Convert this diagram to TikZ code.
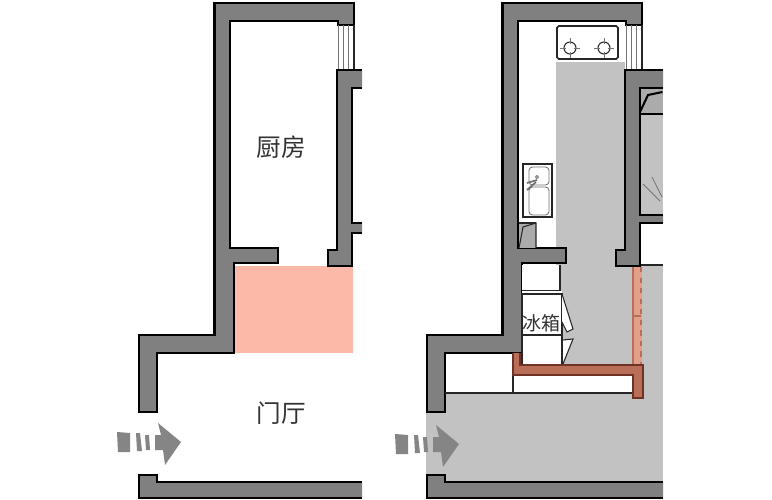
\documentclass[tikz,border=0pt]{standalone}
\usepackage{fontspec}
\newfontfamily\cjk{Noto Sans CJK SC}
\definecolor{wallgray}{HTML}{808080}
\definecolor{floorgray}{HTML}{C3C2C3}
\definecolor{bedgray}{HTML}{ABABAB}
\definecolor{arrowgray}{HTML}{858585}
\definecolor{hallpink}{HTML}{FDB9A7}
\definecolor{newwall}{HTML}{B96E58}
\definecolor{newedge}{HTML}{6E3324}
\definecolor{oldwall}{HTML}{E0A08A}
\tikzset{
	wallfill/.style={fill=wallgray},
	wallline/.style={draw=black, line width=1.15pt, line join=miter},
	thinline/.style={draw=black!85, line width=0.6pt},
	grayline/.style={draw=black!55, line width=0.5pt},
	fixture/.style={draw=black!85, line width=0.9pt, fill=white},
	roomlabel/.style={font=\cjk\fontsize{14}{14}\selectfont, text=black!80, inner sep=0pt},
}

\begin{document}
\begin{tikzpicture}[x=0.02cm, y=-0.02cm]
	\newcommand\shell[4]{
		\begin{scope}[shift={(#1,0)}]
			% outer shell with the entrance gap
			\draw[wallfill, wallline] (214.5,3) -- (354,3) -- (354,25) -- (338,25) -- (338,21) -- (230,21) -- (230,248) -- (278,248) -- (278,263) -- (234,263) -- (234,353) -- (157,353) -- (157,412) -- (139,412) -- (139,335) -- (214.5,335) -- cycle ;
			% window
			\draw[grayline] (338,25) -- (338,70) ;
			\draw[grayline] (343,25) -- (343,70) ;
			\draw[grayline] (348,25) -- (348,70) ;
			\draw[thinline] (354,25) -- (354,70) ;
			% right wall, open towards the next room
			\fill[wallfill] (337,70) -- (#2,70) -- (#2,88) -- (352,88) -- (352,#3) -- (#2,#3) -- (#2,#4) -- (352,#4) -- (352,266) -- (328,266) -- (328,250) -- (337,250) -- cycle ;
			\draw[wallline] (#2,70) -- (337,70) -- (337,250) -- (328,250) -- (328,266) -- (352,266) -- (352,#4) -- (#2,#4) ;
			\draw[wallline] (#2,88) -- (352,88) -- (352,#3) -- (#2,#3) ;
			% bottom wall
			\fill[wallfill] (139,475) -- (157,475) -- (157,482) -- (#2,482) -- (#2,498) -- (139,498) -- cycle ;
			\draw[wallline] (#2,482) -- (157,482) -- (157,475) -- (139,475) -- (139,498) -- (#2,498) ;
		\end{scope}
	}
	\newcommand\entryarrow[2]{
		\begin{scope}[shift={(#1,#2)}]
			\fill[arrowgray] (395,434) -- (408,435) -- (408,454) -- (396,454) -- cycle ;
			\fill[arrowgray] (414,435) -- (418,435) -- (420,453) -- (415,453) -- cycle ;
			\fill[arrowgray] (423,437) -- (427,437) -- (428,452) -- (424,452) -- cycle ;
			\fill[arrowgray] (436,425) -- (459,444) -- (443,467) -- (441,452) -- (433,452) -- (433,437) -- (439,437) -- cycle ;
		\end{scope}
	}
	\newcommand\burner[2]{
		\draw[thinline] (#1,#2) circle (6) ;
		\draw[grayline] (#1-10,#2) -- (#1-4,#2) (#1+4,#2) -- (#1+10,#2) (#1,#2-10) -- (#1,#2-4) (#1,#2+4) -- (#1,#2+10) ;
	}
	\useasboundingbox (0,0) rectangle (772,500) ;

	% left plan
	\fill[hallpink] (234,266) rectangle (352.5,353) ;
	\shell{0}{362}{223}{233}
	\entryarrow{-278}{-2}
	\node[roomlabel] (kitchenlabel) at (281,147) {厨房} ;
	\node[roomlabel] (halllabel) at (281,413) {门厅} ;

	% right plan, floors
	\fill[floorgray] (556,62) rectangle (625,265) ;
	\fill[floorgray] (560,264) rectangle (642,393) ;
	\fill[floorgray] (642,265) rectangle (662.5,393) ;
	\fill[floorgray] (426,393) rectangle (662.5,482) ;
	\fill[floorgray] (640,88) rectangle (662.5,215) ;
	\fill[bedgray] (640,88) rectangle (662.5,114) ;
	\draw[wallline] (640,114) -- (662.5,114) ;
	\draw[wallline] (640,112) -- (648,95) -- (662.5,92) ;
	\draw[thinline] (640,265) -- (662.5,265) ;
	\draw[grayline] (643,184) -- (660,201) ;
	\draw[grayline] (652,177) -- (662,197) ;
	\shell{288}{375}{215}{223}

	% stove
	\draw[fixture, rounded corners=1pt] (557,26) rectangle (618,59) ;
	\burner{570}{48}
	\burner{604}{48}
	% sink
	\draw[fixture] (523,164) rectangle (552,217) ;
	\draw[grayline, rounded corners=2pt] (529,167) rectangle (549,185) ;
	\draw[grayline, rounded corners=2pt] (529,187) rectangle (549,215) ;
	\draw[grayline] (537,177) circle (1.5) ;
	\draw[grayline, line width=1pt] (527,190) -- (536,182) ;
	\draw[grayline, line width=1pt] (527,183) -- (537,180) ;
	% corner cabinet
	\fill[bedgray] (519,223) -- (536,223) -- (536,248) -- (519,248) -- cycle ;
	\draw[thinline] (519,248) -- (523,227) -- (536,223) -- (536,248) ;
	\draw[thinline] (519,223) -- (536,223) ;

	% fridge and cabinet
	\fill[white] (522,265) rectangle (560,291) ;
	\draw[thinline] (560,265) -- (560,291) -- (522,291) ;
	\fill[white] (522,291) rectangle (562,294) ;
	\draw[fill=white, thinline] (522,294) rectangle (562,365) ;
	\draw[thinline] (522,335) -- (562,335) ;
	\draw[fill=white, thinline] (562,294) -- (573,329) -- (567,332) -- (562,322) ;
	\draw[fill=white, thinline] (563,364) -- (573,339) -- (563,340) ;
	\node[roomlabel, font=\cjk\fontsize{10.8}{10.8}\selectfont] (fridgelabel) at (541.5,323) {冰箱} ;

	% new partition
	\fill[white] (513,375) rectangle (633,393) ;
	\draw[thinline] (445,393) -- (633,393) ;
	\draw[thinline] (513,375) -- (513,393) ;
	\fill[oldwall] (632,267) rectangle (642,366) ;
	\draw[draw=newwall, line width=0.7pt] (633,267) -- (633,366) ;
	\draw[draw=newwall, line width=0.7pt, dashed] (641,267) -- (641,366) ;
	\draw[draw=newwall, line width=0.7pt] (633,316) -- (641,316) ;
	\draw[fill=newwall, draw=newedge, line width=0.8pt] (513,353) -- (513,375) -- (633,375) -- (633,398) -- (643,398) -- (643,365) -- (520,365) -- (520,353) ;

	\entryarrow{0}{0}
\end{tikzpicture}
\end{document}
